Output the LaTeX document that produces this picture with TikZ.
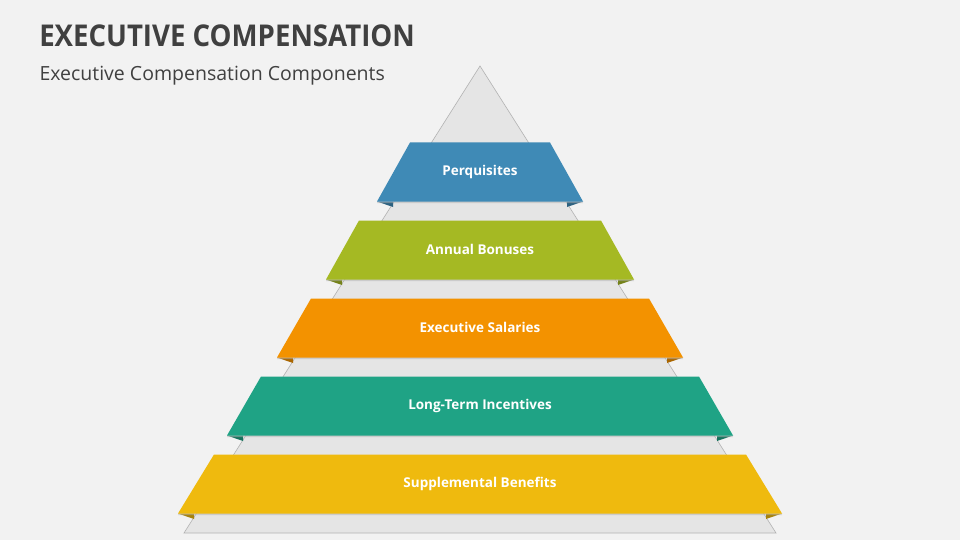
\documentclass[tikz,border=0pt]{standalone}
\usepackage{fontspec}
\setmainfont{Open Sans}
\definecolor{cb}{HTML}{3F8AB6}
\definecolor{cg}{HTML}{A5B923}
\definecolor{co}{HTML}{F39200}
\definecolor{ct}{HTML}{1FA385}
\definecolor{cy}{HTML}{EFBA0E}
\definecolor{tgray}{HTML}{404040}
\begin{document}
\begin{tikzpicture}[x=1pt,y=-1pt,
  lbl/.style={text=white,font=\bfseries\fontsize{13.5}{16}\selectfont}]
\fill[white!95!black] (0,0) rectangle (960,540);
\useasboundingbox (0,0) rectangle (960,540);
\node[anchor=west,text=tgray,font=\bfseries\fontsize{30}{36}\selectfont,xscale=0.92] (title) at (36,36) {EXECUTIVE COMPENSATION};
\node[anchor=west,text=tgray,font=\fontsize{19.5}{23}\selectfont] (sub) at (36,76) {Executive Compensation Components};
\fill[gray!20,draw=gray!60,line width=0.6pt] (480,66) -- (776,533) -- (184,533) -- cycle;
\foreach \c/\y/\hb/\ht/\t [count=\i] in {cb/172/103/70/Perquisites, cg/250/154/121/Annual Bonuses, co/328/203/169/Executive Salaries, ct/406/253/219/Long-Term Incentives, cy/484/302/266/Supplemental Benefits}{
  \fill[\c!70!black] (480-\hb,\y+29.5) -- (480-\hb+16,\y+29.5) -- (480-\hb+16,\y+35) -- cycle;
  \fill[\c!70!black] (480+\hb,\y+29.5) -- (480+\hb-16,\y+29.5) -- (480+\hb-16,\y+35) -- cycle;
  \fill[black!30,opacity=0.5] (480-\ht,\y-29.5+1.5) -- (480+\ht,\y-29.5+1.5) -- (480+\hb,\y+31) -- (480-\hb,\y+31) -- cycle;
  \fill[\c] (480-\ht,\y-29.5) -- (480+\ht,\y-29.5) -- (480+\hb,\y+29.5) -- (480-\hb,\y+29.5) -- cycle;
  \node[lbl] (b\i) at (480,\y+5) {\t};
}
\end{tikzpicture}
\end{document}
